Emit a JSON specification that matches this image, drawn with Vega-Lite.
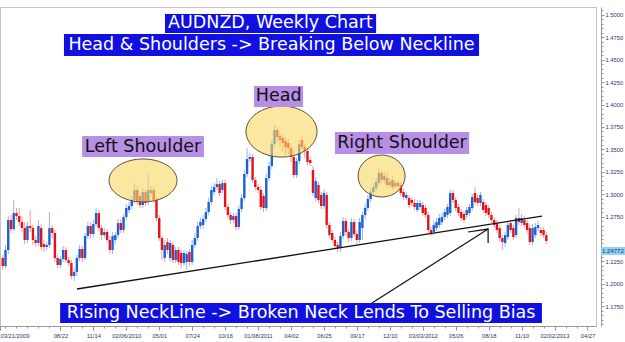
{
"$schema": "https://vega.github.io/schema/vega-lite/v6.json",
"width": 596, "height": 319,
"autosize": {"type": "none"},
"padding": {"left": 0, "top": 7, "right": 29, "bottom": 16},
"background": "white",
"config": {"view": {"stroke": "#c4c4c4"}, "axis": {"labelFont": "Liberation Sans"}, "text": {"font": "DejaVu Sans"}},
"resolve": {"axis": {"x": "independent", "y": "independent"}},
"datasets": {
"candles": [
{"w":1,"o":1.2288,"h":1.2321,"l":1.2154,"c":1.2198},
{"w":2,"o":1.2198,"h":1.2433,"l":1.2176,"c":1.2377},
{"w":3,"o":1.2377,"h":1.2756,"l":1.2332,"c":1.2712},
{"w":4,"o":1.2712,"h":1.2768,"l":1.2567,"c":1.2611},
{"w":5,"o":1.2611,"h":1.2935,"l":1.2589,"c":1.2790},
{"w":6,"o":1.2790,"h":1.2846,"l":1.2712,"c":1.2756},
{"w":7,"o":1.2756,"h":1.2846,"l":1.2645,"c":1.2689},
{"w":8,"o":1.2689,"h":1.2756,"l":1.2578,"c":1.2622},
{"w":9,"o":1.2622,"h":1.2689,"l":1.2444,"c":1.2489},
{"w":10,"o":1.2489,"h":1.2689,"l":1.2455,"c":1.2645},
{"w":11,"o":1.2645,"h":1.2823,"l":1.2578,"c":1.2622},
{"w":12,"o":1.2622,"h":1.2656,"l":1.2433,"c":1.2489},
{"w":13,"o":1.2489,"h":1.2533,"l":1.2411,"c":1.2455},
{"w":14,"o":1.2455,"h":1.2712,"l":1.2422,"c":1.2645},
{"w":15,"o":1.2622,"h":1.2667,"l":1.2377,"c":1.2411},
{"w":16,"o":1.2444,"h":1.2489,"l":1.2355,"c":1.2411},
{"w":17,"o":1.2411,"h":1.2466,"l":1.2377,"c":1.2433},
{"w":18,"o":1.2433,"h":1.2801,"l":1.2399,"c":1.2622},
{"w":19,"o":1.2622,"h":1.2656,"l":1.2511,"c":1.2567},
{"w":20,"o":1.2567,"h":1.2600,"l":1.2243,"c":1.2288},
{"w":21,"o":1.2288,"h":1.2321,"l":1.2176,"c":1.2210},
{"w":22,"o":1.2210,"h":1.2310,"l":1.2176,"c":1.2277},
{"w":23,"o":1.2277,"h":1.2422,"l":1.2243,"c":1.2377},
{"w":24,"o":1.2377,"h":1.2411,"l":1.2232,"c":1.2265},
{"w":25,"o":1.2265,"h":1.2299,"l":1.2198,"c":1.2232},
{"w":26,"o":1.2232,"h":1.2265,"l":1.2053,"c":1.2087},
{"w":27,"o":1.2087,"h":1.2176,"l":1.2031,"c":1.2131},
{"w":28,"o":1.2131,"h":1.2321,"l":1.2087,"c":1.2288},
{"w":29,"o":1.2288,"h":1.2433,"l":1.2254,"c":1.2388},
{"w":30,"o":1.2388,"h":1.2422,"l":1.2243,"c":1.2288},
{"w":31,"o":1.2288,"h":1.2567,"l":1.2265,"c":1.2533},
{"w":32,"o":1.2533,"h":1.2689,"l":1.2500,"c":1.2645},
{"w":33,"o":1.2645,"h":1.2689,"l":1.2511,"c":1.2556},
{"w":34,"o":1.2556,"h":1.2712,"l":1.2522,"c":1.2667},
{"w":35,"o":1.2667,"h":1.2846,"l":1.2634,"c":1.2790},
{"w":36,"o":1.2790,"h":1.2823,"l":1.2589,"c":1.2622},
{"w":37,"o":1.2622,"h":1.2656,"l":1.2489,"c":1.2544},
{"w":38,"o":1.2544,"h":1.2622,"l":1.2511,"c":1.2578},
{"w":39,"o":1.2578,"h":1.2611,"l":1.2455,"c":1.2489},
{"w":40,"o":1.2489,"h":1.2533,"l":1.2332,"c":1.2377},
{"w":41,"o":1.2377,"h":1.2578,"l":1.2332,"c":1.2533},
{"w":42,"o":1.2489,"h":1.2578,"l":1.2444,"c":1.2544},
{"w":43,"o":1.2544,"h":1.2723,"l":1.2511,"c":1.2678},
{"w":44,"o":1.2678,"h":1.2723,"l":1.2567,"c":1.2600},
{"w":45,"o":1.2600,"h":1.2779,"l":1.2567,"c":1.2745},
{"w":46,"o":1.2745,"h":1.2890,"l":1.2712,"c":1.2846},
{"w":47,"o":1.2823,"h":1.2913,"l":1.2790,"c":1.2868},
{"w":48,"o":1.2868,"h":1.2980,"l":1.2835,"c":1.2935},
{"w":49,"o":1.2935,"h":1.3124,"l":1.2902,"c":1.3047},
{"w":50,"o":1.3047,"h":1.3091,"l":1.2879,"c":1.2913},
{"w":51,"o":1.2980,"h":1.3013,"l":1.2846,"c":1.2879},
{"w":52,"o":1.2879,"h":1.3069,"l":1.2846,"c":1.3024},
{"w":53,"o":1.3024,"h":1.3057,"l":1.2868,"c":1.2902},
{"w":54,"o":1.2913,"h":1.3236,"l":1.2879,"c":1.3047},
{"w":55,"o":1.3013,"h":1.3091,"l":1.2980,"c":1.3047},
{"w":56,"o":1.3047,"h":1.3080,"l":1.2902,"c":1.2935},
{"w":57,"o":1.2935,"h":1.2968,"l":1.2701,"c":1.2734},
{"w":58,"o":1.2734,"h":1.2768,"l":1.2478,"c":1.2511},
{"w":59,"o":1.2511,"h":1.2544,"l":1.2265,"c":1.2377},
{"w":60,"o":1.2288,"h":1.2489,"l":1.2243,"c":1.2433},
{"w":61,"o":1.2466,"h":1.2511,"l":1.2332,"c":1.2377},
{"w":62,"o":1.2288,"h":1.2489,"l":1.2243,"c":1.2455},
{"w":63,"o":1.2433,"h":1.2466,"l":1.2232,"c":1.2265},
{"w":64,"o":1.2265,"h":1.2411,"l":1.2232,"c":1.2377},
{"w":65,"o":1.2377,"h":1.2411,"l":1.2210,"c":1.2243},
{"w":66,"o":1.2344,"h":1.2377,"l":1.2176,"c":1.2232},
{"w":67,"o":1.2232,"h":1.2377,"l":1.2198,"c":1.2344},
{"w":68,"o":1.2243,"h":1.2366,"l":1.2154,"c":1.2332},
{"w":69,"o":1.2355,"h":1.2388,"l":1.2198,"c":1.2243},
{"w":70,"o":1.2243,"h":1.2489,"l":1.2210,"c":1.2433},
{"w":71,"o":1.2433,"h":1.2567,"l":1.2399,"c":1.2511},
{"w":72,"o":1.2511,"h":1.2689,"l":1.2478,"c":1.2645},
{"w":73,"o":1.2645,"h":1.2734,"l":1.2611,"c":1.2689},
{"w":74,"o":1.2656,"h":1.2768,"l":1.2611,"c":1.2723},
{"w":75,"o":1.2723,"h":1.2846,"l":1.2689,"c":1.2801},
{"w":76,"o":1.2801,"h":1.2957,"l":1.2768,"c":1.2913},
{"w":77,"o":1.2913,"h":1.3091,"l":1.2879,"c":1.3047},
{"w":78,"o":1.3024,"h":1.3124,"l":1.2991,"c":1.3080},
{"w":79,"o":1.3080,"h":1.3180,"l":1.3047,"c":1.3113},
{"w":80,"o":1.3113,"h":1.3147,"l":1.2980,"c":1.3013},
{"w":81,"o":1.3047,"h":1.3158,"l":1.3013,"c":1.3124},
{"w":82,"o":1.3124,"h":1.3158,"l":1.2823,"c":1.2857},
{"w":83,"o":1.2857,"h":1.2890,"l":1.2734,"c":1.2768},
{"w":84,"o":1.2768,"h":1.2801,"l":1.2667,"c":1.2712},
{"w":85,"o":1.2712,"h":1.2790,"l":1.2678,"c":1.2756},
{"w":86,"o":1.2756,"h":1.2790,"l":1.2600,"c":1.2634},
{"w":87,"o":1.2634,"h":1.2879,"l":1.2600,"c":1.2835},
{"w":88,"o":1.2835,"h":1.3002,"l":1.2801,"c":1.2957},
{"w":89,"o":1.2957,"h":1.3270,"l":1.2924,"c":1.3225},
{"w":90,"o":1.3225,"h":1.3515,"l":1.3191,"c":1.3392},
{"w":91,"o":1.3392,"h":1.3459,"l":1.3359,"c":1.3415},
{"w":92,"o":1.3415,"h":1.3448,"l":1.3124,"c":1.3158},
{"w":93,"o":1.3158,"h":1.3191,"l":1.3047,"c":1.3080},
{"w":94,"o":1.3080,"h":1.3113,"l":1.3013,"c":1.3047},
{"w":95,"o":1.3047,"h":1.3091,"l":1.2823,"c":1.2857},
{"w":96,"o":1.2980,"h":1.3013,"l":1.2801,"c":1.2846},
{"w":97,"o":1.2846,"h":1.3225,"l":1.2812,"c":1.3180},
{"w":98,"o":1.3180,"h":1.3359,"l":1.3147,"c":1.3314},
{"w":99,"o":1.3314,"h":1.3605,"l":1.3281,"c":1.3560},
{"w":100,"o":1.3560,"h":1.3772,"l":1.3526,"c":1.3716},
{"w":101,"o":1.3716,"h":1.3750,"l":1.3593,"c":1.3638},
{"w":102,"o":1.3649,"h":1.3683,"l":1.3526,"c":1.3605},
{"w":103,"o":1.3627,"h":1.3672,"l":1.3471,"c":1.3571},
{"w":104,"o":1.3593,"h":1.3638,"l":1.3437,"c":1.3526},
{"w":105,"o":1.3571,"h":1.3616,"l":1.3437,"c":1.3515},
{"w":106,"o":1.3515,"h":1.3549,"l":1.3359,"c":1.3415},
{"w":107,"o":1.3415,"h":1.3493,"l":1.3180,"c":1.3214},
{"w":108,"o":1.3214,"h":1.3404,"l":1.3180,"c":1.3370},
{"w":109,"o":1.3370,"h":1.3605,"l":1.3337,"c":1.3560},
{"w":110,"o":1.3605,"h":1.3649,"l":1.3493,"c":1.3526},
{"w":111,"o":1.3526,"h":1.3571,"l":1.3404,"c":1.3482},
{"w":112,"o":1.3482,"h":1.3515,"l":1.3325,"c":1.3359},
{"w":113,"o":1.3381,"h":1.3415,"l":1.3314,"c":1.3348},
{"w":114,"o":1.3270,"h":1.3314,"l":1.2980,"c":1.3013},
{"w":115,"o":1.2957,"h":1.3191,"l":1.2924,"c":1.3147},
{"w":116,"o":1.3102,"h":1.3136,"l":1.2902,"c":1.2935},
{"w":117,"o":1.2991,"h":1.3024,"l":1.2835,"c":1.2868},
{"w":118,"o":1.2868,"h":1.3057,"l":1.2835,"c":1.3013},
{"w":119,"o":1.2991,"h":1.3024,"l":1.2622,"c":1.2656},
{"w":120,"o":1.2656,"h":1.2689,"l":1.2511,"c":1.2544},
{"w":121,"o":1.2567,"h":1.2600,"l":1.2455,"c":1.2489},
{"w":122,"o":1.2489,"h":1.2522,"l":1.2388,"c":1.2422},
{"w":123,"o":1.2433,"h":1.2466,"l":1.2355,"c":1.2399},
{"w":124,"o":1.2399,"h":1.2578,"l":1.2355,"c":1.2533},
{"w":125,"o":1.2533,"h":1.2745,"l":1.2500,"c":1.2701},
{"w":126,"o":1.2701,"h":1.2734,"l":1.2544,"c":1.2578},
{"w":127,"o":1.2578,"h":1.2611,"l":1.2466,"c":1.2511},
{"w":128,"o":1.2511,"h":1.2734,"l":1.2478,"c":1.2689},
{"w":129,"o":1.2689,"h":1.2723,"l":1.2522,"c":1.2556},
{"w":130,"o":1.2556,"h":1.2589,"l":1.2444,"c":1.2489},
{"w":131,"o":1.2489,"h":1.2734,"l":1.2455,"c":1.2689},
{"w":132,"o":1.2622,"h":1.2801,"l":1.2489,"c":1.2768},
{"w":133,"o":1.2768,"h":1.2890,"l":1.2723,"c":1.2846},
{"w":134,"o":1.2846,"h":1.2991,"l":1.2812,"c":1.2946},
{"w":135,"o":1.2946,"h":1.3069,"l":1.2913,"c":1.3024},
{"w":136,"o":1.3024,"h":1.3124,"l":1.2991,"c":1.3080},
{"w":137,"o":1.3069,"h":1.3180,"l":1.3035,"c":1.3136},
{"w":138,"o":1.3124,"h":1.3292,"l":1.3091,"c":1.3236},
{"w":139,"o":1.3236,"h":1.3270,"l":1.3124,"c":1.3158},
{"w":140,"o":1.3158,"h":1.3247,"l":1.3113,"c":1.3203},
{"w":141,"o":1.3180,"h":1.3236,"l":1.3069,"c":1.3102},
{"w":142,"o":1.3102,"h":1.3180,"l":1.3069,"c":1.3136},
{"w":143,"o":1.3158,"h":1.3203,"l":1.3047,"c":1.3080},
{"w":144,"o":1.3091,"h":1.3158,"l":1.3057,"c":1.3124},
{"w":145,"o":1.3124,"h":1.3158,"l":1.3057,"c":1.3091},
{"w":146,"o":1.3102,"h":1.3136,"l":1.2980,"c":1.3013},
{"w":147,"o":1.3024,"h":1.3057,"l":1.2935,"c":1.2968},
{"w":148,"o":1.2957,"h":1.3024,"l":1.2935,"c":1.2991},
{"w":149,"o":1.2957,"h":1.2991,"l":1.2846,"c":1.2879},
{"w":150,"o":1.2935,"h":1.2968,"l":1.2868,"c":1.2902},
{"w":151,"o":1.2902,"h":1.2946,"l":1.2823,"c":1.2857},
{"w":152,"o":1.2823,"h":1.2935,"l":1.2801,"c":1.2902},
{"w":153,"o":1.2857,"h":1.2935,"l":1.2823,"c":1.2902},
{"w":154,"o":1.2879,"h":1.2913,"l":1.2756,"c":1.2790},
{"w":155,"o":1.2846,"h":1.2879,"l":1.2734,"c":1.2768},
{"w":156,"o":1.2768,"h":1.2801,"l":1.2567,"c":1.2600},
{"w":157,"o":1.2600,"h":1.2634,"l":1.2533,"c":1.2567},
{"w":158,"o":1.2578,"h":1.2701,"l":1.2544,"c":1.2656},
{"w":159,"o":1.2622,"h":1.2734,"l":1.2589,"c":1.2689},
{"w":160,"o":1.2656,"h":1.2779,"l":1.2622,"c":1.2734},
{"w":161,"o":1.2689,"h":1.2790,"l":1.2656,"c":1.2745},
{"w":162,"o":1.2745,"h":1.2835,"l":1.2712,"c":1.2801},
{"w":163,"o":1.2768,"h":1.2890,"l":1.2734,"c":1.2857},
{"w":164,"o":1.2790,"h":1.3047,"l":1.2756,"c":1.3013},
{"w":165,"o":1.3013,"h":1.3047,"l":1.2902,"c":1.2935},
{"w":166,"o":1.2935,"h":1.2968,"l":1.2812,"c":1.2846},
{"w":167,"o":1.2857,"h":1.2890,"l":1.2756,"c":1.2790},
{"w":168,"o":1.2801,"h":1.2835,"l":1.2701,"c":1.2734},
{"w":169,"o":1.2779,"h":1.2812,"l":1.2678,"c":1.2712},
{"w":170,"o":1.2768,"h":1.2857,"l":1.2734,"c":1.2823},
{"w":171,"o":1.2790,"h":1.2890,"l":1.2756,"c":1.2857},
{"w":172,"o":1.2846,"h":1.3002,"l":1.2812,"c":1.2968},
{"w":173,"o":1.3013,"h":1.3080,"l":1.2879,"c":1.2913},
{"w":174,"o":1.2957,"h":1.2991,"l":1.2868,"c":1.2902},
{"w":175,"o":1.2902,"h":1.3024,"l":1.2868,"c":1.2991},
{"w":176,"o":1.2913,"h":1.2946,"l":1.2790,"c":1.2823},
{"w":177,"o":1.2879,"h":1.2913,"l":1.2756,"c":1.2790},
{"w":178,"o":1.2846,"h":1.2879,"l":1.2734,"c":1.2768},
{"w":179,"o":1.2768,"h":1.2801,"l":1.2678,"c":1.2712},
{"w":180,"o":1.2712,"h":1.2745,"l":1.2622,"c":1.2656},
{"w":181,"o":1.2678,"h":1.2712,"l":1.2567,"c":1.2600},
{"w":182,"o":1.2622,"h":1.2656,"l":1.2478,"c":1.2511},
{"w":183,"o":1.2511,"h":1.2544,"l":1.2377,"c":1.2466},
{"w":184,"o":1.2455,"h":1.2578,"l":1.2411,"c":1.2544},
{"w":185,"o":1.2522,"h":1.2689,"l":1.2489,"c":1.2656},
{"w":186,"o":1.2678,"h":1.2712,"l":1.2567,"c":1.2600},
{"w":187,"o":1.2622,"h":1.2656,"l":1.2489,"c":1.2522},
{"w":188,"o":1.2544,"h":1.2768,"l":1.2511,"c":1.2734},
{"w":189,"o":1.2734,"h":1.2846,"l":1.2656,"c":1.2689},
{"w":190,"o":1.2678,"h":1.2779,"l":1.2645,"c":1.2734},
{"w":191,"o":1.2712,"h":1.2756,"l":1.2622,"c":1.2656},
{"w":192,"o":1.2678,"h":1.2712,"l":1.2567,"c":1.2600},
{"w":193,"o":1.2622,"h":1.2656,"l":1.2433,"c":1.2466},
{"w":194,"o":1.2466,"h":1.2667,"l":1.2433,"c":1.2622},
{"w":195,"o":1.2544,"h":1.2678,"l":1.2511,"c":1.2634},
{"w":196,"o":1.2622,"h":1.2701,"l":1.2589,"c":1.2656},
{"w":197,"o":1.2600,"h":1.2634,"l":1.2533,"c":1.2567},
{"w":198,"o":1.2600,"h":1.2634,"l":1.2511,"c":1.2544},
{"w":199,"o":1.2544,"h":1.2578,"l":1.2444,"c":1.2478}
],
"lines": [
{"id":"neck","ord":1,"w":28.05,"p":1.1942},
{"id":"neck","ord":2,"w":197.45,"p":1.2756},
{"id":"arrow","ord":1,"w":135.5,"p":1.1786},
{"id":"arrow","ord":2,"w":177.8,"p":1.2611},
{"id":"tip","ord":1,"w":170.5,"p":1.2578},
{"id":"tip","ord":2,"w":177.8,"p":1.2611},
{"id":"tip","ord":3,"w":177.8,"p":1.2455}
],
"ellipses": [
{"name":"left","w":52.1,"p":1.3153},
{"name":"head","w":102.55,"p":1.3699},
{"name":"right","w":139.0,"p":1.3203}
],
"boxes": [
{"kind":"blue","t":"AUDNZD, Weekly Chart","w1":60.1,"w2":137.0,"p1":1.5011,"p2":1.4799,"wc":98.5,"pc":1.4905},
{"kind":"blue","t":"Head & Shoulders -> Breaking Below Neckline","w1":23.3,"w2":174.5,"p1":1.4788,"p2":1.4542,"wc":98.9,"pc":1.4665},
{"kind":"purple","t":"Left Shoulder","w1":29.9,"w2":74.3,"p1":1.3649,"p2":1.3415,"wc":52.1,"pc":1.3532},
{"kind":"purple","t":"Head","w1":92.5,"w2":110.4,"p1":1.4207,"p2":1.3973,"wc":101.5,"pc":1.4096},
{"kind":"purple","t":"Right Shoulder","w1":122.0,"w2":170.9,"p1":1.3694,"p2":1.3448,"wc":146.4,"pc":1.3571},
{"kind":"blue","t":"Rising NeckLine -> Broken Neck Lends To Selling Bias","w1":21.9,"w2":197.4,"p1":1.1786,"p2":1.1562,"wc":109.7,"pc":1.1674}
],
"last": [
{"t":"1.24772","w1":218.9,"w2":227.7,"p1":1.2411,"p2":1.2321,"w":219.3,"p":1.2366}
]
},
"layer": [
{
"data": {"name": "candles"},
"mark": {"type": "rule", "strokeWidth": 1},
"encoding": {
"x": {"field": "w", "type": "quantitative", "scale": {"domain": [0, 217.1], "nice": false, "zero": false},
"axis": {"orient": "bottom", "title": null, "grid": false,
"values": [0,22,34,46,58,70,82,94,106,118,130,142,154,166,178,190,202,214],
"labelExpr": "datum.value == 0 ? '03/21/2009' : ['08/22','11/14','02/06/2010','05/01','07/24','10/16','01/08/2011','04/02','06/25','09/17','12/10','03/03/2012','05/26','08/18','11/10','02/02/2013','04/27'][(datum.value - 22) / 12]",
"labelFontSize": 5.8, "labelColor": "#27376b", "labelPadding": 2, "labelOverlap": false, "labelFlush": true,
"tickSize": 4, "tickColor": "#8a8a8a", "domainColor": "#9a9a9a"}},
"y": {"field": "l", "type": "quantitative", "scale": {"domain": [1.1529, 1.5089], "nice": false, "zero": false},
"axis": {"orient": "right", "title": null, "grid": false, "offset": 5,
"values": [1.175,1.2,1.225,1.275,1.3,1.325,1.35,1.375,1.4,1.425,1.45,1.475,1.5],
"format": ".4f", "labelFontSize": 5.8, "labelColor": "#27376b", "labelPadding": 1,
"tickSize": 3, "tickColor": "#8a8a8a", "domainColor": "#9a9a9a"}},
"y2": {"field": "h"},
"color": {"condition": {"test": "datum.c >= datum.o", "value": "#93b8ec"}, "value": "#f29c9c"}
}
},
{
"data": {"name": "candles"},
"mark": {"type": "rule", "strokeWidth": 2.4},
"encoding": {
"x": {"field": "w", "type": "quantitative",
"axis": {"orient": "bottom", "title": null, "grid": false, "labels": false, "domain": false, "tickSize": 2, "tickColor": "#9a9a9a",
"values": [2,6,10,14,18,22,26,30,34,38,42,46,50,54,58,62,66,70,74,78,82,86,90,94,98,102,106,110,114,118,122,126,130,134,138,142,146,150,154,158,162,166,170,174,178,182,186,190,194,198,202,206,210,214]}},
"y": {"field": "o", "type": "quantitative",
"axis": {"orient": "right", "title": null, "grid": false, "labels": false, "domain": false, "offset": 5, "tickSize": 2, "tickColor": "#9a9a9a",
"values": [1.155,1.16,1.165,1.17,1.175,1.18,1.185,1.19,1.195,1.2,1.205,1.21,1.215,1.22,1.225,1.23,1.235,1.24,1.245,1.25,1.255,1.26,1.265,1.27,1.275,1.28,1.285,1.29,1.295,1.3,1.305,1.31,1.315,1.32,1.325,1.33,1.335,1.34,1.345,1.35,1.355,1.36,1.365,1.37,1.375,1.38,1.385,1.39,1.395,1.4,1.405,1.41,1.415,1.42,1.425,1.43,1.435,1.44,1.445,1.45,1.455,1.46,1.465,1.47,1.475,1.48,1.485,1.49,1.495,1.5,1.505]}},
"y2": {"field": "c"},
"color": {"condition": {"test": "datum.c >= datum.o", "value": "#1d5fd6"}, "value": "#e3121b"}
}
},
{
"data": {"name": "lines"},
"transform": [{"filter": "datum.id == 'neck'"}],
"mark": {"type": "line", "color": "#111111", "strokeWidth": 1.3},
"encoding": {
"x": {"field": "w", "type": "quantitative", "axis": null},
"y": {"field": "p", "type": "quantitative", "axis": null},
"detail": {"field": "id"},
"order": {"field": "ord"}
}
},
{
"data": {"name": "ellipses"},
"transform": [{"filter": "datum.name == 'left'"}],
"mark": {"type": "point", "filled": true, "shape": "M-1,0A1,0.632,0,1,1,1,0A1,0.632,0,1,1,-1,0Z", "size": 4624, "fill": "#f7d865", "fillOpacity": 0.62, "stroke": "#5e5230", "strokeWidth": 1, "strokeOpacity": 1, "opacity": 1},
"encoding": {"x": {"field": "w", "type": "quantitative", "axis": null}, "y": {"field": "p", "type": "quantitative", "axis": null}}
},
{
"data": {"name": "ellipses"},
"transform": [{"filter": "datum.name == 'head'"}],
"mark": {"type": "point", "filled": true, "shape": "M-1,0A1,0.718,0,1,1,1,0A1,0.718,0,1,1,-1,0Z", "size": 5041, "fill": "#f7d865", "fillOpacity": 0.62, "stroke": "#5e5230", "strokeWidth": 1, "strokeOpacity": 1, "opacity": 1},
"encoding": {"x": {"field": "w", "type": "quantitative", "axis": null}, "y": {"field": "p", "type": "quantitative", "axis": null}}
},
{
"data": {"name": "ellipses"},
"transform": [{"filter": "datum.name == 'right'"}],
"mark": {"type": "point", "filled": true, "shape": "M-1,0A1,0.894,0,1,1,1,0A1,0.894,0,1,1,-1,0Z", "size": 2209, "fill": "#f7d865", "fillOpacity": 0.62, "stroke": "#5e5230", "strokeWidth": 1, "strokeOpacity": 1, "opacity": 1},
"encoding": {"x": {"field": "w", "type": "quantitative", "axis": null}, "y": {"field": "p", "type": "quantitative", "axis": null}}
},
{
"data": {"name": "lines"},
"transform": [{"filter": "datum.id != 'neck'"}],
"mark": {"type": "line", "color": "#111111", "strokeWidth": 1.2},
"encoding": {
"x": {"field": "w", "type": "quantitative", "axis": null},
"y": {"field": "p", "type": "quantitative", "axis": null},
"detail": {"field": "id"},
"order": {"field": "ord"}
}
},
{
"data": {"name": "boxes"},
"transform": [{"filter": "datum.kind == 'blue'"}],
"mark": {"type": "rect", "color": "#1010e0"},
"encoding": {
"x": {"field": "w1", "type": "quantitative", "axis": null}, "x2": {"field": "w2"},
"y": {"field": "p1", "type": "quantitative", "axis": null}, "y2": {"field": "p2"}
}
},
{
"data": {"name": "boxes"},
"transform": [{"filter": "datum.kind == 'purple'"}],
"mark": {"type": "rect", "color": "#b88fe6"},
"encoding": {
"x": {"field": "w1", "type": "quantitative", "axis": null}, "x2": {"field": "w2"},
"y": {"field": "p1", "type": "quantitative", "axis": null}, "y2": {"field": "p2"}
}
},
{
"data": {"name": "boxes"},
"transform": [{"filter": "datum.kind == 'blue'"}],
"mark": {"type": "text", "color": "#ffffff", "font": "DejaVu Sans", "fontSize": 17.5, "align": "center", "baseline": "middle"},
"encoding": {
"x": {"field": "wc", "type": "quantitative", "axis": null},
"y": {"field": "pc", "type": "quantitative", "axis": null},
"text": {"field": "t"}
}
},
{
"data": {"name": "boxes"},
"transform": [{"filter": "datum.kind == 'purple'"}],
"mark": {"type": "text", "color": "#111111", "font": "DejaVu Sans", "fontSize": 17.5, "align": "center", "baseline": "middle"},
"encoding": {
"x": {"field": "wc", "type": "quantitative", "axis": null},
"y": {"field": "pc", "type": "quantitative", "axis": null},
"text": {"field": "t"}
}
},
{
"data": {"name": "last"},
"mark": {"type": "rect", "color": "#8fd2f6"},
"encoding": {
"x": {"field": "w1", "type": "quantitative", "axis": null}, "x2": {"field": "w2"},
"y": {"field": "p1", "type": "quantitative", "axis": null}, "y2": {"field": "p2"}
}
},
{
"data": {"name": "last"},
"mark": {"type": "text", "color": "#1a2a5a", "font": "Liberation Sans", "fontSize": 6, "align": "left", "baseline": "middle"},
"encoding": {
"x": {"field": "w", "type": "quantitative", "axis": null},
"y": {"field": "p", "type": "quantitative", "axis": null},
"text": {"field": "t"}
}
}
]
}
